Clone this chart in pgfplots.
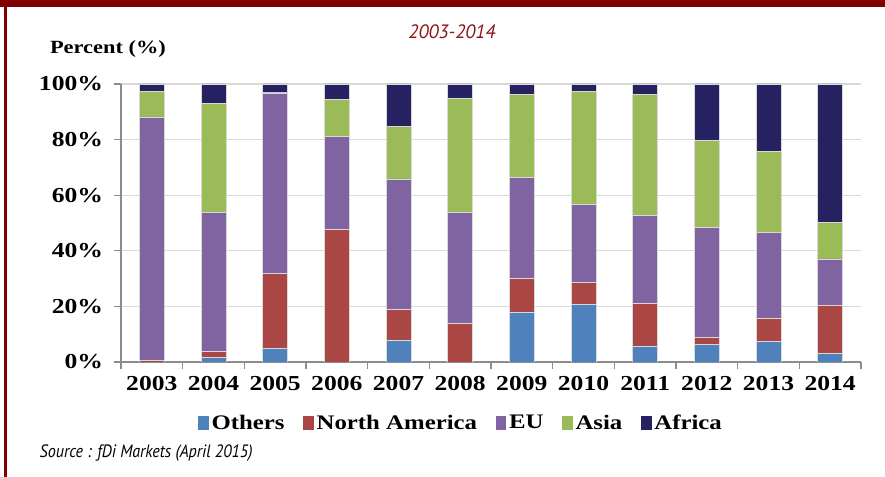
\documentclass[border=0pt]{standalone}
\usepackage{pgfplots}
\pgfplotsset{compat=1.18}
\usepackage{pgfplotstable}
\usepackage{fontspec}
\setmainfont{Liberation Serif}[FakeStretch=1.2]
\newfontfamily\srcfont{PT Sans}[FakeStretch=0.9]
\newfontfamily\ttlfont{PT Sans}
\definecolor{cOthers}{HTML}{4F81BD}
\definecolor{cNA}{HTML}{AA4643}
\definecolor{cEU}{HTML}{8064A2}
\definecolor{cAsia}{HTML}{9BBB59}
\definecolor{cAfrica}{HTML}{262262}
\definecolor{frame}{HTML}{800000}
\definecolor{titlered}{HTML}{8B1414}
\pgfplotstableread{
x others na eu asia africa
0  0.0  0.7 87.5  9.2  2.6
1  1.7  2.0 50.1 39.1  7.1
2  4.9 27.1 64.8  0.2  3.0
3  0.0 47.8 33.4 13.3  5.5
4  7.8 11.1 47.0 18.8 15.3
5  0.0 13.8 40.0 41.0  5.2
6 17.9 12.2 36.4 29.9  3.6
7 20.9  7.7 28.2 40.6  2.6
8  5.8 15.3 31.7 43.6  3.6
9  6.4  2.4 39.5 31.4 20.3
10 7.3  8.6 30.8 29.0 24.3
11 3.2 17.1 16.8 13.2 49.7
}\data
\begin{document}
\begin{tikzpicture}[x=0.75pt,y=0.75pt]
\path[use as bounding box] (0,0) rectangle (885,477);
\fill[frame] (0,470) rectangle (885,477);
\fill[frame] (4,0) rectangle (6.5,477);
\node[font=\bfseries\fontsize{14pt}{16pt}\selectfont] at (108,428) {Percent (\%)};
\node[font=\ttlfont\itshape\fontsize{14.5pt}{16pt}\selectfont, text=titlered] at (452,445) {2003-2014};
\node[font=\srcfont\itshape\fontsize{13.4pt}{15pt}\selectfont, anchor=west] at (35,24) {Source : fDi Markets (April 2015)};
\begin{axis}[
  at={(90.75pt,86.25pt)}, anchor=south west,
  scale only axis, width=555pt, height=208.5pt,
  ybar stacked, bar width=18.75pt,
  xmin=-0.5, xmax=11.5, ymin=0, ymax=100,
  xtick={0,...,11},
  xticklabels={2003,2004,2005,2006,2007,2008,2009,2010,2011,2012,2013,2014},
  minor xtick={-0.5,0.5,...,11.5},
  ytick={0,20,...,100},
  yticklabel={\pgfmathprintnumber{\tick}\%},
  /pgf/number format/assume math mode=true,
  axis lines=left, axis line style={-, draw=black!45, line width=1pt},
  major tick length=0pt, minor tick length=5pt,
  tick style={draw=black!45, line width=1pt},
  tick align=outside,
  extra y ticks={0,20,...,100}, extra y tick labels={},
  extra y tick style={major tick length=5pt, tick align=outside, grid=none},
  ymajorgrids, grid style={draw=black!15, line width=0.8pt},
  xticklabel style={font=\bfseries\fontsize{16pt}{18pt}\selectfont, yshift=-7pt},
  yticklabel style={font=\bfseries\fontsize{16pt}{18pt}\selectfont, xshift=-10pt},
  legend style={at={(0.46,-0.22)}, anchor=center, draw=none, fill=none,
    legend columns=5, font=\bfseries\fontsize{15.5pt}{17pt}\selectfont,
    /tikz/every even column/.append style={column sep=12pt},
    inner sep=0pt},
  legend cell align=left,
  mybar/.style={fill=#1, draw=white!85!black, line width=0.4pt,
    legend image code/.code={\fill[##1,draw=none] (0pt,-5pt) rectangle (8pt,5pt);}},
]
\addplot[mybar=cOthers] table[x=x,y=others] {\data};
\addplot[mybar=cNA] table[x=x,y=na] {\data};
\addplot[mybar=cEU] table[x=x,y=eu] {\data};
\addplot[mybar=cAsia] table[x=x,y=asia] {\data};
\addplot[mybar=cAfrica] table[x=x,y=africa] {\data};
\legend{Others,North America,EU,Asia,Africa}
\end{axis}
\end{tikzpicture}
\end{document}
